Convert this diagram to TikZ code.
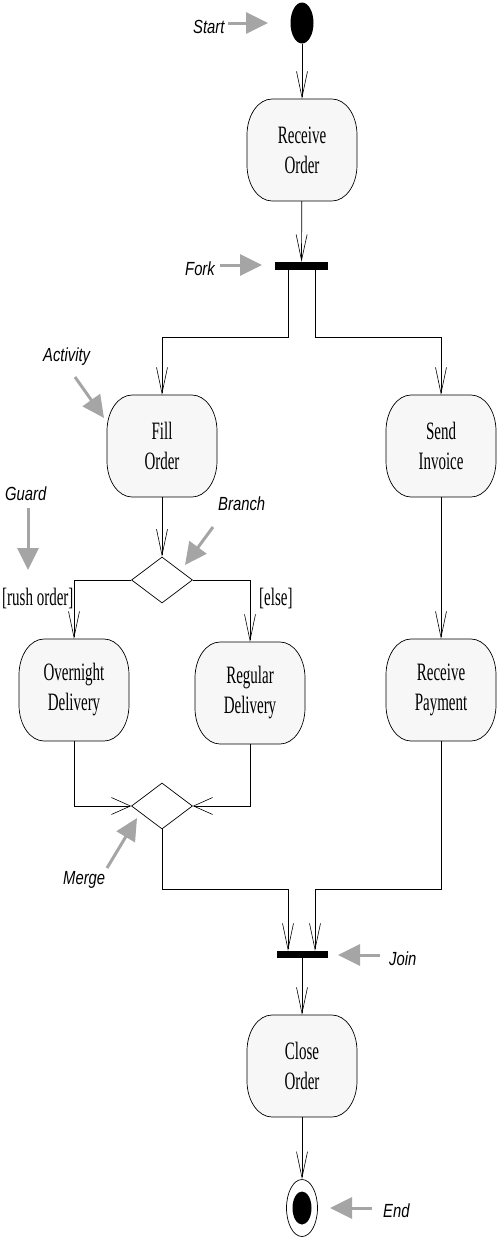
\documentclass[tikz,border=0pt]{standalone}
\usepackage{fontspec}
\usetikzlibrary{arrows.meta,shapes.geometric,calc}
\newfontfamily\boxfont[FakeStretch=0.6]{Liberation Serif}
\newfontfamily\notefont[FakeStretch=0.78]{Liberation Sans}
\definecolor{notegray}{RGB}{165,165,165}
\definecolor{boxfill}{RGB}{247,247,247}
\newcommand\actbox[4]{%
  \draw[boxline] ($(#2,#3)+(-30,51)$) -- ($(#2,#3)+(30,51)$)
    arc[start angle=90,end angle=0,x radius=25,y radius=36]
    -- ($(#2,#3)+(55,-15)$)
    arc[start angle=0,end angle=-90,x radius=25,y radius=36]
    -- ($(#2,#3)+(-30,-51)$)
    arc[start angle=270,end angle=180,x radius=25,y radius=36]
    -- ($(#2,#3)+(-55,15)$)
    arc[start angle=180,end angle=90,x radius=25,y radius=36] -- cycle;
  \node[act] (#1) at (#2,#3) {#4};}
\begin{document}
\begin{tikzpicture}[x=1pt,y=1pt,
  boxline/.style={draw=black, line width=0.7pt, fill=boxfill},
  act/.style={minimum width=110pt, minimum height=102pt, inner sep=0pt, align=center,
    font=\boxfont\fontsize{25}{30}\selectfont},
  flow/.style={line width=0.7pt, draw=black, -{Straight Barb[length=26pt,width=11pt,line width=0.6pt]}},
  mflow/.style={line width=0.7pt, draw=black, -{Straight Barb[length=19pt,width=17pt,line width=0.6pt]}},
  note/.style={draw=notegray, line width=3pt, -{Triangle[length=22pt,width=21pt]}},
  notetext/.style={font=\notefont\itshape\fontsize{19}{20}\selectfont, inner sep=0pt, anchor=base west},
  guardtext/.style={font=\boxfont\fontsize{25}{26}\selectfont, inner sep=0pt, anchor=base west},
  bar/.style={fill=black, draw=none, minimum width=53pt, minimum height=8pt, inner sep=0pt},
  decision/.style={diamond, draw, line width=0.7pt, fill=white, minimum width=61pt, minimum height=46pt, inner sep=0pt}
]
\useasboundingbox (0,0) rectangle (500,-1242);

% start and end
\node[ellipse, fill=black, minimum width=23pt, minimum height=41pt, inner sep=0pt] (start) at (302,-23) {};

% activities
\actbox{recv}{302}{-150}{Receive\\Order}
\actbox{fill}{162}{-446}{Fill\\Order}
\actbox{send}{441}{-446}{Send\\Invoice}
\actbox{over}{74}{-690}{Overnight\\Delivery}
\actbox{reg}{250}{-693}{Regular\\Delivery}
\actbox{pay}{441}{-690}{Receive\\Payment}
\actbox{close}{302}{-1066}{Close\\Order}

% bars and decisions
\node[bar] (fork) at (301.5,-266) {};
\node[bar, minimum width=51pt, minimum height=7pt] (join) at (302,-954.5) {};
\node[decision] (br) at (162,-580) {};
\node[decision] (mg) at (162,-806) {};

\node[ellipse, draw, line width=0.7pt, minimum width=31pt, minimum height=57pt, inner sep=0pt] (finish) at (302,-1208) {};
\node[ellipse, fill=black, minimum width=19pt, minimum height=33pt, inner sep=0pt] (finishin) at (302,-1208) {};

% helper coordinates
\coordinate (fl) at (288,-337);
\coordinate (fr) at (315,-337);
\coordinate (jl) at (288,-889);
\coordinate (jr) at (315,-889);

% flows
\draw[flow] (start) -- (recv);
\draw[flow] (recv) -- (fork);
\draw[flow] ([xshift=-13.5pt]fork.south) -- (fl) -| (fill.north);
\draw[flow] ([xshift=13.5pt]fork.south) -- (fr) -| (send.north);
\draw[flow] (fill) -- (br);
\draw[flow] (br.west) -| (over.north);
\draw[flow] (br.east) -| (reg.north);
\draw[flow] (send) -- (pay);
\draw[mflow] (over.south) |- (mg.west);
\draw[mflow] (reg.south) |- (mg.east);
\draw[flow] (mg.south) |- (jl) -- (jl |- join.north);
\draw[flow] (pay.south) |- (jr) -- (jr |- join.north);
\draw[flow] (join) -- (close);
\draw[flow] (close) -- (finish);

% guards
\node[guardtext] (g1) at (2,-605) {[rush order]};
\node[guardtext] (g2) at (259,-605) {[else]};

% annotations
\node[notetext] (tStart) at (193,-33) {Start};
\node[notetext] (tFork) at (185,-275) {Fork};
\node[notetext] (tAct) at (43,-361) {Activity};
\node[notetext] (tGuard) at (5,-500) {Guard};
\node[notetext] (tBranch) at (218,-510) {Branch};
\node[notetext] (tMerge) at (63,-884) {Merge};
\node[notetext] (tJoin) at (389,-965) {Join};
\node[notetext] (tEnd) at (383,-1217) {End};

\coordinate (a1) at (228,-23);   \coordinate (b1) at (268,-23);
\coordinate (a2) at (220,-265);  \coordinate (b2) at (262,-265);
\coordinate (a3) at (75,-377);   \coordinate (b3) at (104,-418);
\coordinate (a4) at (28,-508);   \coordinate (b4) at (28,-570);
\coordinate (a5) at (213,-527);  \coordinate (b5) at (185,-565);
\coordinate (a6) at (107,-868);  \coordinate (b6) at (137,-818);
\coordinate (a7) at (380,-955);  \coordinate (b7) at (338,-955);
\coordinate (a8) at (372,-1208); \coordinate (b8) at (330,-1208);
\draw[note] (a1) -- (b1);
\draw[note] (a2) -- (b2);
\draw[note] (a3) -- (b3);
\draw[note] (a4) -- (b4);
\draw[note] (a5) -- (b5);
\draw[note] (a6) -- (b6);
\draw[note] (a7) -- (b7);
\draw[note] (a8) -- (b8);
\end{tikzpicture}
\end{document}
